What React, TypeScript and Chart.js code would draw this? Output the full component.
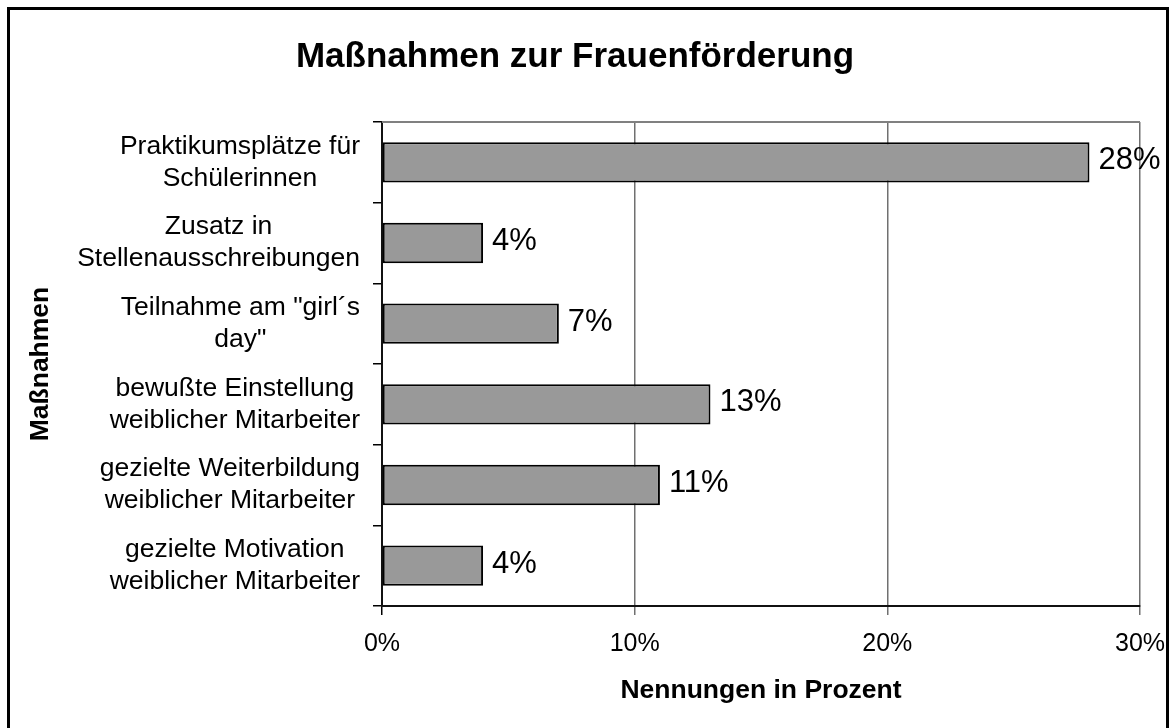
import { useEffect, useRef } from "react";
import { Chart, registerables } from "chart.js";

Chart.register(...registerables);

const TITLE = "Maßnahmen zur Frauenförderung";
const X_TITLE = "Nennungen in Prozent";
const Y_TITLE = "Maßnahmen";

const categories: string[][] = [
  ["Praktikumsplätze für", "Schülerinnen"],
  ["Zusatz in", "Stellenausschreibungen"],
  ['Teilnahme am "girl´s', 'day"'],
  ["bewußte Einstellung", "weiblicher Mitarbeiter"],
  ["gezielte Weiterbildung", "weiblicher Mitarbeiter"],
  ["gezielte Motivation", "weiblicher Mitarbeiter"],
];
const values: number[] = [28, 4, 7, 13, 11, 4];
const xTickValues: number[] = [0, 10, 20, 30];

const FONT = "'Liberation Sans', Arial, Helvetica, sans-serif";

export default function App() {
  const canvasRef = useRef<HTMLCanvasElement | null>(null);

  useEffect(() => {
    const canvas = canvasRef.current;
    if (!canvas) return;
    Chart.defaults.font.family = FONT;
    Chart.defaults.color = "#000";

    const titlePlugin = {
      id: "mainTitle",
      afterDraw(chart: any) {
        const ctx = chart.ctx;
        ctx.save();
        ctx.font = `bold 35px ${FONT}`;
        ctx.fillStyle = "#000";
        ctx.textAlign = "center";
        ctx.textBaseline = "alphabetic";
        ctx.fillText(TITLE, 575, 67);
        ctx.restore();
      },
    };

    const frameTopPlugin = {
      id: "plotTop",
      afterDatasetsDraw(chart: any) {
        const { ctx, chartArea } = chart;
        ctx.save();
        ctx.strokeStyle = "#808080";
        ctx.lineWidth = 2;
        ctx.beginPath();
        ctx.moveTo(chartArea.left, chartArea.top);
        ctx.lineTo(chartArea.right, chartArea.top);
        ctx.stroke();
        ctx.restore();
      },
    };

    const catLabelPlugin = {
      id: "catLabels",
      afterDraw(chart: any) {
        const ctx = chart.ctx;
        const yScale = chart.scales.y;
        const rightEdge = chart.chartArea.left - 22;
        const lh = 32;
        ctx.save();
        ctx.font = `26.5px ${FONT}`;
        ctx.fillStyle = "#000";
        ctx.textAlign = "center";
        ctx.textBaseline = "middle";
        categories.forEach((lines, i) => {
          const yc = yScale.getPixelForValue(i);
          const w = Math.max(...lines.map((l) => ctx.measureText(l).width));
          const cx = rightEdge - w / 2;
          const y0 = yc - ((lines.length - 1) * lh) / 2;
          lines.forEach((l, j) => ctx.fillText(l, cx, y0 + j * lh));
        });
        ctx.restore();
      },
    };

    const valueLabelPlugin = {
      id: "valueLabels",
      afterDatasetsDraw(chart: any) {
        const ctx = chart.ctx;
        const meta = chart.getDatasetMeta(0);
        ctx.save();
        ctx.font = `31px ${FONT}`;
        ctx.fillStyle = "#000";
        ctx.textAlign = "left";
        ctx.textBaseline = "middle";
        meta.data.forEach((bar: any, i: number) => {
          ctx.fillText(values[i] + "%", bar.x + 9, bar.y - 1.5);
        });
        ctx.restore();
      },
    };

    const chart = new Chart(canvas, {
      type: "bar",
      data: {
        labels: categories,
        datasets: [
          {
            data: values,
            backgroundColor: "#999999",
            borderColor: "#000000",
            borderWidth: 2,
            borderSkipped: false,
            barPercentage: 0.5,
            categoryPercentage: 1,
          },
        ],
      },
      options: {
        indexAxis: "y",
        animation: false,
        responsive: false,
        devicePixelRatio: 1,
        layout: { padding: { top: 122, left: 0, right: 29, bottom: 0 } },
        plugins: {
          legend: { display: false },
          tooltip: { enabled: false },
          title: { display: false },
        },
        scales: {
          x: {
            type: "linear",
            min: 0,
            max: 30,
            afterBuildTicks(scale: any) {
              scale.ticks = xTickValues.map((v) => ({ value: v }));
            },
            afterFit(scale: any) {
              scale.height = 122;
              scale.paddingLeft = 0;
              scale.paddingRight = 0;
            },
            ticks: {
              callback: (v: any) => v + "%",
              font: { size: 25 },
              color: "#000",
              padding: 14,
              maxRotation: 0,
            },
            grid: {
              color: (c: any) => (c.index === 0 ? "#000" : "#707070"),
              lineWidth: 1.5,
              tickLength: 9,
              drawTicks: true,
            },
            border: { display: true, color: "#111", width: 2 },
            title: {
              display: true,
              text: X_TITLE,
              font: { size: 26.5, weight: "bold" },
              color: "#000",
              padding: { top: 0, bottom: 21.5 },
            },
          },
          y: {
            type: "category",
            afterFit(scale: any) {
              scale.width = 382;
              scale.paddingTop = 0;
              scale.paddingBottom = 0;
            },
            ticks: { display: false },
            grid: {
              offset: true,
              drawOnChartArea: false,
              drawTicks: true,
              tickLength: 9,
              color: "#000",
              lineWidth: 1.5,
            },
            border: { display: true, color: "#111", width: 2 },
            title: {
              display: true,
              text: Y_TITLE,
              font: { size: 26.5, weight: "bold" },
              color: "#000",
              padding: { top: 25, bottom: 0 },
            },
          },
        },
      },
      plugins: [titlePlugin, frameTopPlugin, catLabelPlugin, valueLabelPlugin],
    } as any);

    return () => chart.destroy();
  }, []);

  return (
    <div
      style={{
        position: "absolute",
        left: 0,
        top: 0,
        width: 1169,
        height: 728,
        overflow: "hidden",
        background: "#fff",
      }}
    >
      <canvas
        ref={canvasRef}
        width={1169}
        height={728}
        style={{ position: "absolute", left: 0, top: 0, width: 1169, height: 728 }}
      />
      <div
        style={{
          position: "absolute",
          left: 7,
          top: 7,
          width: 1162,
          height: 760,
          border: "3px solid #000",
          boxSizing: "border-box",
          pointerEvents: "none",
        }}
      />
    </div>
  );
}
